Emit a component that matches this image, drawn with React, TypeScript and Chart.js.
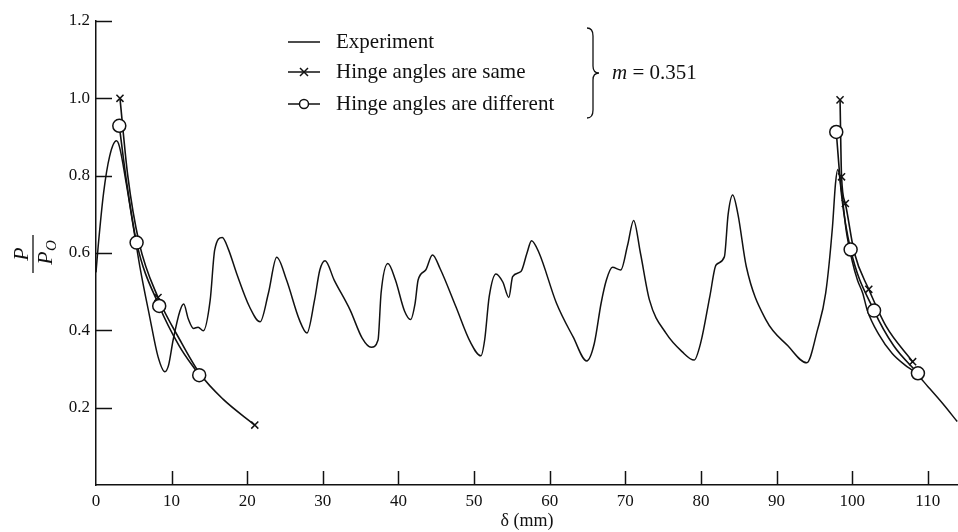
import React, { useEffect, useRef } from 'react';
import { Chart, registerables } from 'chart.js';

Chart.register(...registerables);

// ---------- data ----------
const expX = [0, 0.3, 1.0, 1.8, 2.7, 3.1, 4.0, 5.0, 5.8, 7.1, 8.2, 9.1, 9.6, 10.2, 11.1, 11.6, 12.2, 12.9, 13.5, 14.2, 15.1, 15.7, 16.7, 17.5, 18.6, 20.3, 21.7, 22.8, 23.9, 25.2, 26.9, 27.9, 28.9, 29.6, 30.3, 31.5, 33.6, 35.2, 36.4, 37.3, 37.7, 38.6, 39.6, 40.8, 41.6, 42.2, 42.6, 43.6, 44.5, 45.5, 47.6, 49.5, 50.9, 51.4, 52.0, 52.9, 53.8, 54.6, 55.1, 56.2, 57.0, 57.6, 58.6, 60.9, 63.1, 64.9, 65.9, 66.8, 67.5, 68.3, 69.4, 70.3, 71.1, 72.0, 73.2, 75.4, 77.5, 79.1, 80.0, 81.2, 82.0, 83.1, 83.6, 84.2, 84.9, 86.0, 88.6, 91.5, 94.0, 95.4, 96.5, 97.4, 97.8, 98.1, 98.6, 99.2, 100.0, 100.7, 101.4, 102.0, 103.5, 105.3, 107.0, 108.4, 110.0, 112.0, 113.9];
const expY = [0.55, 0.62, 0.755, 0.85, 0.89, 0.875, 0.78, 0.66, 0.565, 0.435, 0.332, 0.293, 0.31, 0.375, 0.45, 0.468, 0.43, 0.405, 0.408, 0.399, 0.478, 0.608, 0.64, 0.61, 0.547, 0.461, 0.422, 0.496, 0.589, 0.53, 0.427, 0.393, 0.478, 0.556, 0.58, 0.53, 0.453, 0.38, 0.356, 0.375, 0.496, 0.573, 0.53, 0.45, 0.428, 0.47, 0.53, 0.556, 0.595, 0.56, 0.461, 0.37, 0.334, 0.375, 0.487, 0.546, 0.525, 0.485, 0.539, 0.552, 0.6, 0.632, 0.6, 0.47, 0.383, 0.321, 0.366, 0.47, 0.53, 0.563, 0.556, 0.62, 0.684, 0.6, 0.478, 0.392, 0.345, 0.323, 0.37, 0.49, 0.569, 0.59, 0.7, 0.75, 0.7, 0.565, 0.427, 0.36, 0.316, 0.4, 0.496, 0.668, 0.78, 0.816, 0.76, 0.66, 0.58, 0.53, 0.496, 0.452, 0.39, 0.34, 0.31, 0.29, 0.255, 0.21, 0.164];

// Hinge angles are same (×) — first cycle
const sameLX = [3.17, 4.2, 5.7, 8.2, 11.1, 13.7, 16.8, 21.0];
const sameLY = [1.0, 0.8, 0.627, 0.485, 0.375, 0.289, 0.222, 0.155];
const sameLMark = [1, 0, 0, 1, 0, 0, 0, 1];
// Hinge angles are same (×) — second cycle
const sameRX = [98.4, 98.6, 99.1, 100.3, 102.2, 104.5, 108.0];
const sameRY = [0.996, 0.797, 0.728, 0.6, 0.506, 0.41, 0.319];
const sameRMark = [1, 1, 1, 0, 1, 0, 1];

// Hinge angles are different (o) — first cycle
const diffLX = [3.08, 4.0, 5.37, 8.36, 11.0, 13.65];
const diffLY = [0.929, 0.79, 0.627, 0.463, 0.36, 0.284];
const diffLMark = [1, 0, 1, 1, 0, 1];
// Hinge angles are different (o) — second cycle
const diffRX = [97.9, 98.6, 99.8, 102.9, 105.5, 108.7];
const diffRY = [0.913, 0.75, 0.609, 0.451, 0.36, 0.289];
const diffRMark = [1, 0, 1, 1, 0, 1];

const xTickValues = [0, 10, 20, 30, 40, 50, 60, 70, 80, 90, 100, 110];
const yTickValues = [0, 0.2, 0.4, 0.6, 0.8, 1.0, 1.2];
const legendLabels = ['Experiment', 'Hinge angles are same', 'Hinge angles are different'];
const paramSymbol = 'm';
const paramText = ' = 0.351';
const xTitle = 'δ (mm)';
const yTitleNum = 'P';
const yTitleDen = 'P';
const yTitleSub = 'O';

const INK = '#111';
const SERIF = '"Liberation Serif", "DejaVu Serif", serif';

const pts = (xs: number[], ys: number[]) => xs.map((x, i) => ({ x, y: ys[i] }));

const overlay = {
  id: 'overlay',
  afterDraw(chart: any) {
    const ctx = chart.ctx as CanvasRenderingContext2D;
    const xs = chart.scales.x;
    const ys = chart.scales.y;
    const area = chart.chartArea;
    ctx.save();
    ctx.strokeStyle = INK;
    ctx.fillStyle = INK;
    ctx.lineWidth = 1.5;
    // inward tick marks
    yTickValues.forEach((v) => {
      if (v === 0) return;
      const py = Math.round(ys.getPixelForValue(v)) + 0.5;
      ctx.beginPath();
      ctx.moveTo(area.left, py);
      ctx.lineTo(area.left + 16, py);
      ctx.stroke();
    });
    xTickValues.forEach((v) => {
      if (v === 0) return;
      const px = Math.round(xs.getPixelForValue(v)) + 0.5;
      ctx.beginPath();
      ctx.moveTo(px, area.bottom);
      ctx.lineTo(px, area.bottom - 14);
      ctx.stroke();
    });

    // x title
    ctx.font = `18px ${SERIF}`;
    ctx.textAlign = 'center';
    ctx.textBaseline = 'middle';
    ctx.fillText(xTitle, xs.getPixelForValue(57), 521);

    // y title: fraction P / P_O rotated
    ctx.save();
    ctx.translate(33, 254);
    ctx.rotate(-Math.PI / 2);
    ctx.font = `italic 22px ${SERIF}`;
    ctx.textAlign = 'center';
    ctx.textBaseline = 'alphabetic';
    ctx.fillText(yTitleNum, 0, -5);
    ctx.lineWidth = 1.3;
    ctx.beginPath();
    ctx.moveTo(-19, 0);
    ctx.lineTo(19, 0);
    ctx.stroke();
    ctx.fillText(yTitleDen, -4, 19);
    ctx.font = `italic 15px ${SERIF}`;
    ctx.textAlign = 'left';
    ctx.fillText(yTitleSub, 3, 23);
    ctx.restore();

    // legend
    const rows = [42, 72, 104];
    ctx.lineWidth = 1.5;
    rows.forEach((ry, i) => {
      ctx.beginPath();
      ctx.moveTo(288, ry);
      ctx.lineTo(320, ry);
      ctx.stroke();
      if (i === 1) {
        ctx.beginPath();
        ctx.moveTo(300, ry - 4);
        ctx.lineTo(308, ry + 4);
        ctx.moveTo(300, ry + 4);
        ctx.lineTo(308, ry - 4);
        ctx.stroke();
      } else if (i === 2) {
        ctx.beginPath();
        ctx.arc(304, ry, 4.5, 0, Math.PI * 2);
        ctx.fillStyle = '#fff';
        ctx.fill();
        ctx.stroke();
        ctx.fillStyle = INK;
      }
      ctx.font = `21px ${SERIF}`;
      ctx.textAlign = 'left';
      ctx.textBaseline = 'middle';
      ctx.fillText(legendLabels[i], 336, ry);
    });
    // brace
    ctx.lineWidth = 1.3;
    ctx.beginPath();
    ctx.moveTo(587, 28);
    ctx.quadraticCurveTo(593, 28, 593, 36);
    ctx.lineTo(593, 66);
    ctx.quadraticCurveTo(593, 73, 599, 73);
    ctx.quadraticCurveTo(593, 73, 593, 80);
    ctx.lineTo(593, 110);
    ctx.quadraticCurveTo(593, 118, 587, 118);
    ctx.stroke();
    ctx.font = `italic 21px ${SERIF}`;
    ctx.textAlign = 'left';
    ctx.textBaseline = 'middle';
    ctx.fillText(paramSymbol, 612, 73);
    const mw = ctx.measureText(paramSymbol).width;
    ctx.font = `21px ${SERIF}`;
    ctx.fillText(paramText, 612 + mw, 73);
    ctx.restore();
  },
};

export default function App() {
  const ref = useRef<HTMLCanvasElement | null>(null);
  useEffect(() => {
    if (!ref.current) return;
    const common = {
      borderColor: INK,
      borderWidth: 1.6,
      cubicInterpolationMode: 'monotone' as const,
      pointBorderColor: INK,
      pointBorderWidth: 1.5,
      pointHoverRadius: 0,
      fill: false,
    };
    const chart = new Chart(ref.current, {
      type: 'line',
      data: {
        datasets: [
          {
            ...common,
            label: legendLabels[2],
            data: pts(diffLX, diffLY),
            pointStyle: 'circle',
            pointRadius: diffLMark.map((m) => (m ? 6.5 : 0)),
            pointBackgroundColor: '#fff',
          },
          {
            ...common,
            label: legendLabels[2] + ' 2',
            data: pts(diffRX, diffRY),
            pointStyle: 'circle',
            pointRadius: diffRMark.map((m) => (m ? 6.5 : 0)),
            pointBackgroundColor: '#fff',
          },
          {
            ...common,
            label: legendLabels[1],
            data: pts(sameLX, sameLY),
            pointStyle: 'crossRot',
            pointRadius: sameLMark.map((m) => (m ? 5 : 0)),
          },
          {
            ...common,
            label: legendLabels[1] + ' 2',
            data: pts(sameRX, sameRY),
            pointStyle: 'crossRot',
            pointRadius: sameRMark.map((m) => (m ? 5 : 0)),
          },
          {
            ...common,
            label: legendLabels[0],
            data: pts(expX, expY),
            pointRadius: 0,
            borderWidth: 1.5,
          },
        ],
      },
      options: {
        responsive: false,
        maintainAspectRatio: false,
        animation: false,
        events: [],
        layout: { autoPadding: false, padding: { left: 0, right: 0, top: 21, bottom: 0 } },
        plugins: {
          legend: { display: false },
          tooltip: { enabled: false },
          title: { display: false },
        },
        scales: {
          x: {
            type: 'linear',
            min: 0,
            max: 114,
            afterBuildTicks: (s: any) => {
              s.ticks = xTickValues.map((v) => ({ value: v }));
            },
            afterFit: (s: any) => {
              s.height = 47;
              s.paddingLeft = 0;
              s.paddingRight = 0;
              s.paddingTop = 0;
              s.paddingBottom = 0;
            },
            grid: { display: true, drawOnChartArea: false, drawTicks: false },
            border: { display: true, color: INK, width: 1.5 },
            ticks: {
              color: INK,
              padding: 6,
              maxRotation: 0,
              autoSkip: false,
              font: { family: SERIF, size: 17 },
              callback: (v: any) => String(v),
            },
          },
          y: {
            type: 'linear',
            min: 0,
            max: 1.2,
            afterBuildTicks: (s: any) => {
              s.ticks = yTickValues.map((v) => ({ value: v }));
            },
            afterFit: (s: any) => {
              s.width = 96;
              s.paddingLeft = 0;
              s.paddingRight = 0;
              s.paddingTop = 0;
              s.paddingBottom = 0;
            },
            grid: { display: true, drawOnChartArea: false, drawTicks: false },
            border: { display: true, color: INK, width: 1.5 },
            ticks: {
              color: INK,
              padding: 6,
              autoSkip: false,
              font: { family: SERIF, size: 17 },
              callback: (v: any) => (Number(v) === 0 ? '' : Number(v).toFixed(1)),
            },
          },
        },
      },
      plugins: [overlay],
    });
    return () => chart.destroy();
  }, []);
  return (
    <div style={{ position: 'absolute', left: 0, top: 0, width: 958, height: 532, background: '#fff' }}>
      <canvas ref={ref} width={958} height={532} style={{ display: 'block' }} />
    </div>
  );
}
